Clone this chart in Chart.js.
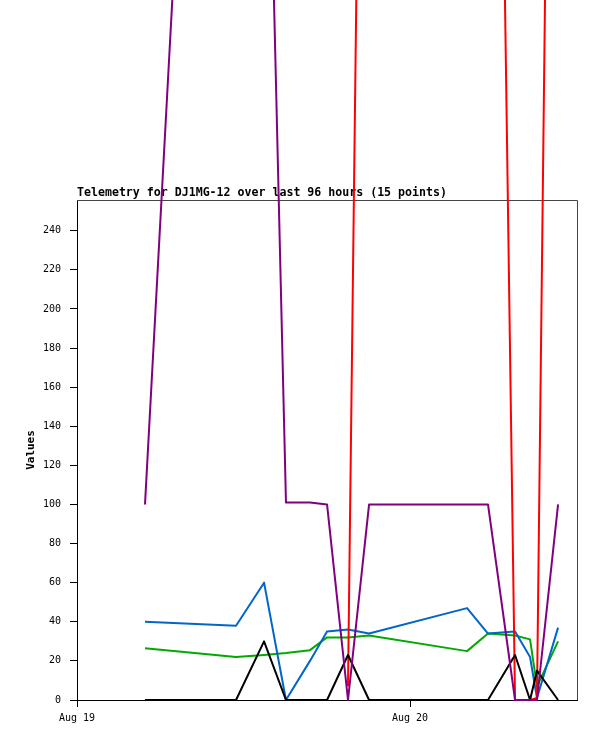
<!DOCTYPE html>
<html>
<head>
<meta charset="utf-8">
<script src="https://cdn.jsdelivr.net/npm/chart.js@4/dist/chart.umd.min.js"></script>
<style>
  html, body { margin: 0; padding: 0; background: #ffffff; }
  #wrap { width: 597px; height: 741px; }
</style>
</head>
<body>
<div id="wrap"><canvas id="c" width="597" height="741"></canvas></div>
<script>
// Hours since Aug 19 00:00 for each telemetry sample
const hours = [4.9, 11.46, 13.48, 15.06, 16.79, 18.02, 19.53, 21.05, 28.11, 29.62, 31.57, 32.65, 33.15, 34.67];

const purpleValues = [100, 960, 571, 101, 101, 100, 0, 100, 100, 100, 0, 0, 0, 100];
const redValues    = [null, null, null, null, null, null, 7, 900, null, 960, 0, 0, 1, 940];
const blueValues   = [40, 38, 60, 0, 20, 35, 36, 34, 47, 34, 35, 22, 1, 37];
const greenValues  = [26.5, 22, 23, 24, 25.5, 32, 32, 33, 25, 34, 33, 31, 7, 30];
const blackValues  = [0, 0, 30, 0, 0, 0, 23, 0, 0, 0, 23, 0, 15, 0];

const xTickHours  = [0, 24];
const xTickLabels = ['Aug 19', 'Aug 20'];
const yTicks      = [0, 20, 40, 60, 80, 100, 120, 140, 160, 180, 200, 220, 240];

const titleText = 'Telemetry for DJ1MG-12 over last 96 hours (15 points)';
const yTitle = 'Values';

function pts(arr) { return hours.map((h, i) => ({ x: h, y: arr[i] })); }

function ds(label, arr, color, order) {
  return {
    label: label,
    data: pts(arr),
    borderColor: color,
    backgroundColor: color,
    borderWidth: 2,
    borderJoinStyle: 'round',
    borderCapStyle: 'butt',
    pointRadius: 0,
    tension: 0,
    fill: false,
    spanGaps: false,
    clip: false,
    order: order
  };
}

const frame = {
  id: 'frame',
  beforeDatasetsDraw(chart) {
    const a = chart.chartArea, ctx = chart.ctx;
    ctx.save();
    ctx.strokeStyle = '#444444';
    ctx.lineWidth = 1;
    ctx.beginPath();
    ctx.moveTo(a.left, Math.round(a.top) + 0.5);
    ctx.lineTo(Math.round(a.right) - 0.5, Math.round(a.top) + 0.5);
    ctx.lineTo(Math.round(a.right) - 0.5, a.bottom);
    ctx.stroke();
    ctx.restore();
  }
};

const mono = 'DejaVu Sans Mono';

new Chart(document.getElementById('c'), {
  type: 'line',
  data: {
    datasets: [
      ds('purple', purpleValues, '#800080', 0),
      ds('black', blackValues, '#000000', 1),
      ds('red', redValues, '#ff0000', 2),
      ds('blue', blueValues, '#0066cc', 3),
      ds('green', greenValues, '#00aa00', 4)
    ]
  },
  options: {
    responsive: false,
    animation: false,
    devicePixelRatio: 1,
    events: [],
    layout: { padding: { left: 0, right: 19.5, top: 0, bottom: 0 } },
    plugins: {
      legend: { display: false },
      tooltip: { enabled: false },
      title: {
        display: true,
        text: titleText,
        align: 'start',
        fullSize: false,
        color: '#000000',
        font: { family: mono, size: 11.6, weight: 'bold', lineHeight: 1.2 },
        padding: { top: 186, bottom: 0.08 }
      }
    },
    scales: {
      x: {
        type: 'linear',
        min: 0,
        max: 36.07,
        afterBuildTicks(scale) { scale.ticks = xTickHours.map(v => ({ value: v })); },
        afterFit(scale) { scale.height = 41; },
        ticks: {
          autoSkip: false,
          maxRotation: 0,
          padding: 5,
          color: '#000000',
          font: { family: mono, size: 10 },
          callback: (v) => xTickLabels[xTickHours.indexOf(v)]
        },
        grid: { drawOnChartArea: false, drawTicks: true, tickLength: 7, color: '#000000' },
        border: { display: true, color: '#000000', width: 1 }
      },
      y: {
        type: 'linear',
        min: 0,
        max: 255.7,
        afterBuildTicks(scale) { scale.ticks = yTicks.map(v => ({ value: v })); },
        afterFit(scale) { scale.width = 77; },
        ticks: {
          padding: 9,
          color: '#000000',
          font: { family: mono, size: 10 }
        },
        grid: { drawOnChartArea: false, drawTicks: true, tickLength: 7, color: '#000000' },
        border: { display: true, color: '#000000', width: 1 },
        title: {
          display: true,
          text: yTitle,
          color: '#000000',
          font: { family: mono, size: 11, weight: 'bold', lineHeight: 1.2 },
          padding: { top: 24.4, bottom: 0 }
        }
      }
    }
  },
  plugins: [frame]
});
</script>
</body>
</html>
